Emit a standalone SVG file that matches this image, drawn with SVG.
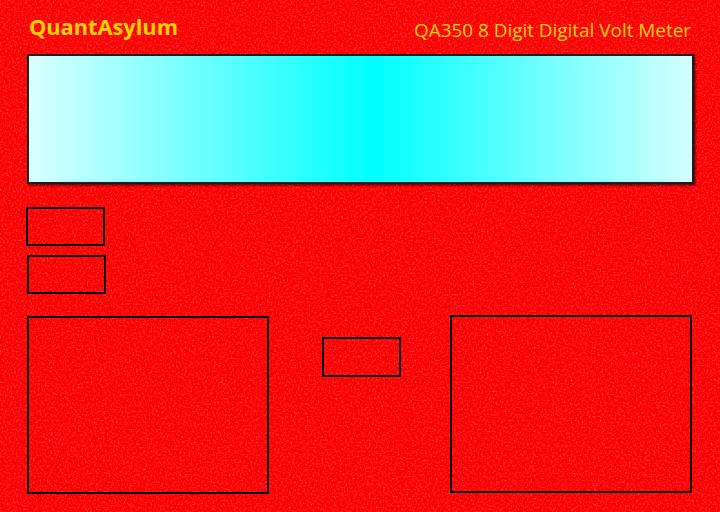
<svg xmlns="http://www.w3.org/2000/svg" width="720" height="512" viewBox="0 0 720 512">
<style>
.box{fill:none;stroke:#000;stroke-width:2}
.title{font-family:"Open Sans","Noto Sans","Liberation Sans",sans-serif;fill:#FFD200}
</style>
<defs>
<filter id="noise" x="0" y="0" width="100%" height="100%">
<feTurbulence type="fractalNoise" baseFrequency="0.55" numOctaves="2" seed="3" result="t"/>
<feColorMatrix in="t" type="matrix" values="0 0 0 0 1  0 0 0 0 0.45  0 0 0 0 0.45  0 0 0 2.2 -1.05"/>
</filter>
<filter id="noise2" x="0" y="0" width="100%" height="100%">
<feTurbulence type="fractalNoise" baseFrequency="0.5" numOctaves="2" seed="9" result="t"/>
<feColorMatrix in="t" type="matrix" values="0 0 0 0 0.55  0 0 0 0 0  0 0 0 0 0  0 0 0 2.2 -1.05"/>
</filter>
<linearGradient id="lcd" x1="0" y1="0" x2="1" y2="0">
<stop offset="0" stop-color="#DAFFFF"/>
<stop offset="0.52" stop-color="#00FFFF"/>
<stop offset="1" stop-color="#D4FFFF"/>
</linearGradient>
<filter id="shadow" x="-5%" y="-10%" width="110%" height="130%">
<feDropShadow dx="1.5" dy="1.5" stdDeviation="1" flood-color="#000" flood-opacity="0.6"/>
</filter>
</defs>
<g id="background">
<rect width="720" height="512" fill="#FF0000"/>
<rect width="720" height="512" filter="url(#noise)" opacity="0.45"/>
<rect width="720" height="512" filter="url(#noise2)" opacity="0.4"/>
</g>
<g id="brand"><text class="title" x="29" y="35" font-size="22" font-weight="bold" textLength="149" lengthAdjust="spacingAndGlyphs">QuantAsylum</text></g>
<g id="model"><text class="title" x="414" y="37" font-size="18" textLength="277" lengthAdjust="spacingAndGlyphs">QA350 8 Digit Digital Volt Meter</text></g>
<g id="display"><rect x="28" y="55" width="665" height="128" fill="url(#lcd)" stroke="#1a1a1a" stroke-width="2" filter="url(#shadow)"/></g>
<g id="box1"><rect class="box" x="27" y="208" width="77" height="37"/></g>
<g id="box2"><rect class="box" x="28" y="256" width="77" height="37"/></g>
<g id="panel-left"><rect class="box" x="28" y="317" width="240" height="176"/></g>
<g id="box-mid"><rect class="box" x="323" y="338" width="77" height="38"/></g>
<g id="panel-right"><rect class="box" x="451" y="316" width="240" height="176"/></g>
<g id="connectors"></g>
</svg>
